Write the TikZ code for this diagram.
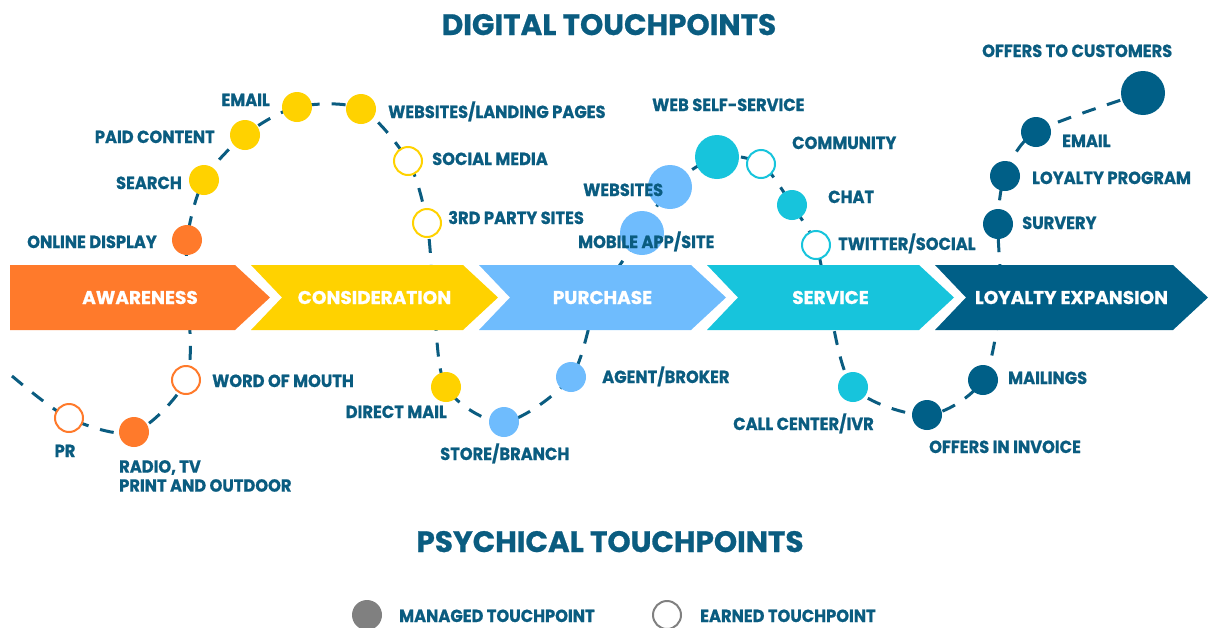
\documentclass[tikz,border=0pt]{standalone}
\usepackage{fontspec}
\setmainfont{Poppins}[BoldFeatures={FakeBold=0.8}]
\newfontfamily\lblfont{Poppins}[FakeStretch=0.93, BoldFeatures={FakeBold=0.8}]
\usetikzlibrary{positioning}

\definecolor{ink}{HTML}{0A5C80}
\definecolor{awareC}{HTML}{FF7A2B}
\definecolor{considC}{HTML}{FFD200}
\definecolor{purchC}{HTML}{6FBCFD}
\definecolor{servC}{HTML}{17C4DC}
\definecolor{loyalC}{HTML}{005F87}
\definecolor{legendC}{HTML}{808080}

\pgfdeclarelayer{curve}
\pgfdeclarelayer{band}
\pgfsetlayers{curve,band,main}

\tikzset{
    tp/.style={circle, fill=#1, minimum size=30pt, inner sep=0pt},
    tpbig/.style={circle, fill=#1, minimum size=44pt, inner sep=0pt},
    tpopen/.style={circle, draw=#1, fill=white, line width=2pt, minimum size=28pt, inner sep=0pt},
    lbl/.style={font=\lblfont\bfseries\fontsize{17.5}{19}\selectfont, text=ink, inner sep=0pt},
    stagetext/.style={font=\bfseries\fontsize{18.5}{20}\selectfont, text=white, inner sep=0pt},
    headline/.style={font=\bfseries\fontsize{29.5}{32}\selectfont, text=ink, inner sep=0pt},
    journey/.style={draw=ink, line width=3pt, dash pattern=on 14pt off 12pt},
}

\begin{document}
\begin{tikzpicture}[x=1pt, y=-1pt]
    \useasboundingbox (0,0) rectangle (1208,627);

    % headings
    \node[headline, anchor=base] (digital) at (609,35) {DIGITAL TOUCHPOINTS};
    \node[headline, anchor=base] (physical) at (610,552) {PSYCHICAL TOUCHPOINTS};

    % awareness
    \node[tpopen=awareC] (pr) at (69,418) {};
    \node[tp=awareC] (radio) at (134,432) {};
    \node[tpopen=awareC] (wom) at (186,380) {};
    \node[tp=awareC] (online) at (187,240) {};
    % consideration
    \node[tp=considC] (search) at (204,180) {};
    \node[tp=considC] (paid) at (245,135) {};
    \node[tp=considC] (email) at (297,107) {};
    \node[tp=considC] (landing) at (361,109) {};
    \node[tpopen=considC] (social) at (408,161) {};
    \node[tpopen=considC] (third) at (427,223) {};
    \node[tp=considC] (direct) at (446,387) {};
    % purchase
    \node[tp=purchC] (store) at (504,422) {};
    \node[tp=purchC] (agent) at (571,377) {};
    \node[tpbig=purchC] (mobile) at (642,233) {};
    \node[tpbig=purchC] (websites) at (670,187) {};
    % service
    \node[tpbig=servC] (selfserv) at (717,157) {};
    \node[tpopen=servC] (community) at (761,164) {};
    \node[tp=servC] (chat) at (792,205) {};
    \node[tpopen=servC] (twitter) at (816,245) {};
    \node[tp=servC] (callc) at (853,387) {};
    % loyalty
    \node[tp=loyalC] (invoice) at (927,415) {};
    \node[tp=loyalC] (mailings) at (983,380) {};
    \node[tp=loyalC] (survery) at (998,224) {};
    \node[tp=loyalC] (loyalty) at (1005,176) {};
    \node[tp=loyalC] (email2) at (1036,132) {};
    \node[tpbig=loyalC] (offers) at (1143,93) {};

    % points where the path runs under the stage band
    \coordinate (start) at (12,376);
    \coordinate (under1) at (189,305);
    \coordinate (under2) at (434,300);
    \coordinate (under3) at (598,300);
    \coordinate (under4) at (828,300);
    \coordinate (under5) at (1000,300);

    \begin{pgfonlayer}{curve}
        \draw[journey] plot[smooth, tension=0.5] coordinates {
            (start) (pr.center) (radio.center) (wom.center) (under1)
            (online.center) (search.center) (paid.center) (email.center)
            (landing.center) (social.center) (third.center) (under2)
            (direct.center) (store.center) (agent.center) (under3)
            (mobile.center) (websites.center) (selfserv.center)
            (community.center) (chat.center) (twitter.center) (under4)
            (callc.center) (invoice.center) (mailings.center) (under5)
            (survery.center) (loyalty.center) (email2.center) (offers.center)};
    \end{pgfonlayer}

    % stage band
    \begin{pgfonlayer}{band}
        \foreach \l/\t/\c/\s/\n [count=\i] in {10/270/awareC/0/AWARENESS,
                251/498/considC/31/CONSIDERATION, 479/726/purchC/31/PURCHASE,
                707/954/servC/31/SERVICE, 935/1208/loyalC/31/LOYALTY EXPANSION}{
            \fill[\c] (\l,265) -- ({\t-35},265) -- (\t,297.5) -- ({\t-35},330)
                -- (\l,330) -- ({\l+\s},297.5) -- cycle;
            \node[stagetext, anchor=base] (stage\i) at ({(\l+\t)/2},304) {\n};
        }
    \end{pgfonlayer}

    % labels
    \node[lbl, anchor=base] (l-pr) at (65,457) {PR};
    \node[lbl, anchor=north west, align=left] (l-radio) at (119,460)
        {RADIO, TV\\PRINT AND OUTDOOR};
    \node[lbl, anchor=base west] (l-wom) at (212,387) {WORD OF MOUTH};
    \node[lbl, anchor=base east] (l-online) at (157,248) {ONLINE DISPLAY};
    \node[lbl, anchor=base east] (l-search) at (182,189) {SEARCH};
    \node[lbl, anchor=base east] (l-paid) at (215,143) {PAID CONTENT};
    \node[lbl, anchor=base east] (l-email) at (270,106) {EMAIL};
    \node[lbl, anchor=base west] (l-landing) at (388,118) {WEBSITES/LANDING PAGES};
    \node[lbl, anchor=base west] (l-social) at (432,165) {SOCIAL MEDIA};
    \node[lbl, anchor=base west] (l-third) at (448,224) {3RD PARTY SITES};
    \node[lbl, anchor=base east] (l-direct) at (447,418) {DIRECT MAIL};
    \node[lbl, anchor=base west] (l-store) at (440,460) {STORE/BRANCH};
    \node[lbl, anchor=base west] (l-agent) at (602,383) {AGENT/BROKER};
    \node[lbl, anchor=base west] (l-mobile) at (578,248) {MOBILE APP/SITE};
    \node[lbl, anchor=base west] (l-websites) at (583,196) {WEBSITES};
    \node[lbl, anchor=base west] (l-selfserv) at (652,111) {WEB SELF-SERVICE};
    \node[lbl, anchor=base west] (l-community) at (792,149) {COMMUNITY};
    \node[lbl, anchor=base west] (l-chat) at (828,203) {CHAT};
    \node[lbl, anchor=base west] (l-twitter) at (838,250) {TWITTER/SOCIAL};
    \node[lbl, anchor=base east] (l-callc) at (874,430) {CALL CENTER/IVR};
    \node[lbl, anchor=base west] (l-invoice) at (929,453) {OFFERS IN INVOICE};
    \node[lbl, anchor=base west] (l-mailings) at (1008,384) {MAILINGS};
    \node[lbl, anchor=base west] (l-survery) at (1022,229) {SURVERY};
    \node[lbl, anchor=base west] (l-loyalty) at (1032,184) {LOYALTY PROGRAM};
    \node[lbl, anchor=base west] (l-email2) at (1062,147) {EMAIL};
    \node[lbl, anchor=base west] (l-offers) at (982,57) {OFFERS TO CUSTOMERS};

    % legend
    \node[tp=legendC] (managed) at (367,615) {};
    \node[lbl, anchor=base west] (l-managed) at (399,622) {MANAGED TOUCHPOINT};
    \node[tpopen=legendC] (earned) at (667,615) {};
    \node[lbl, anchor=base west] (l-earned) at (700,622) {EARNED TOUCHPOINT};
\end{tikzpicture}
\end{document}
